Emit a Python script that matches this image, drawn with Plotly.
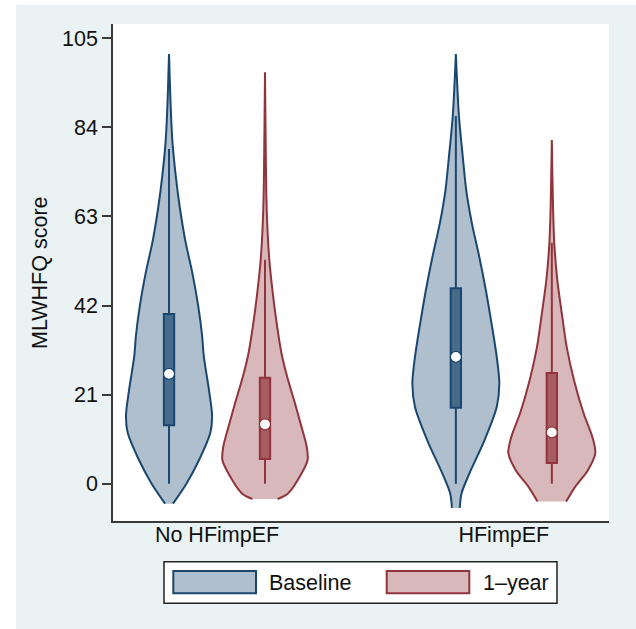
import plotly.graph_objects as go

# ---------------- data ----------------
categories = ["No HFimpEF", "HFimpEF"]
series_names = ["Baseline", "1\u2013year"]
y_ticks = [0, 21, 42, 63, 84, 105]

# violin outlines: score levels and relative density (half-width, 1 = widest)
nohf_base_levels = [-4.7, 0, 6, 12, 16, 22, 30, 35, 42, 50, 57, 65, 73, 81, 90, 101.3]
nohf_base_dens = [0.09, 0.40, 0.71, 0.95, 0.99, 0.92, 0.80, 0.76, 0.67, 0.53, 0.38, 0.25, 0.15, 0.076, 0.034, 0.0]

nohf_1y_levels = [-3.6, -2.3, 2.4, 5.6, 8.7, 13.4, 18.9, 25.2, 30.7, 37, 44.8, 52.7, 60, 68.4, 80, 97]
nohf_1y_dens = [0.29, 0.53, 0.84, 0.98, 0.96, 0.84, 0.69, 0.51, 0.38, 0.28, 0.18, 0.10, 0.057, 0.03, 0.016, 0.0]

hf_base_levels = [-5.7, -2.3, 2.4, 10.3, 18.1, 23.6, 29.9, 37.8, 45.6, 53.4, 61.3, 69.1, 77, 86.8, 101.3]
hf_base_dens = [0.09, 0.13, 0.31, 0.66, 0.94, 1.0, 0.94, 0.82, 0.69, 0.54, 0.37, 0.24, 0.16, 0.07, 0.0]

hf_1y_levels = [-4.2, -0.7, 3.2, 7.2, 11.1, 16.6, 24.4, 32.3, 40.1, 48, 56.6, 65, 81]
hf_1y_dens = [0.33, 0.54, 0.83, 1.0, 0.93, 0.73, 0.51, 0.34, 0.23, 0.126, 0.057, 0.028, 0.0]

# box statistics: [lower whisker, q1, median, q3, upper whisker]
nohf_base_box = [0, 13.8, 25.9, 40.0, 78.9]
nohf_1y_box = [0, 5.8, 14.0, 25.0, 52.8]
hf_base_box = [0, 17.9, 29.9, 46.1, 86.7]
hf_1y_box = [0, 4.9, 12.1, 26.1, 56.8]

# ---------------- styling ----------------
FONT = "Liberation Sans, Arial, sans-serif"
FS = 21.5
NAVY = "#1a476f"
MAROON = "#90353b"
FILL = {"Baseline": "#afbfcd", "1\u2013year": "#d8b8ba"}
LINE = {"Baseline": NAVY, "1\u2013year": MAROON}
BOXFILL = {"Baseline": "#476b8b", "1\u2013year": "#a65c61"}
BG = "#eaf2f3"
AXC = "#3a3a3a"

OFFSET = 0.1673      # dodge of each series from the category centre
MAXW = 0.1516        # half-width of the widest violin
BOXW = 0.036

groups = [
    (0, "Baseline", nohf_base_levels, nohf_base_dens, nohf_base_box),
    (0, "1\u2013year", nohf_1y_levels, nohf_1y_dens, nohf_1y_box),
    (1, "Baseline", hf_base_levels, hf_base_dens, hf_base_box),
    (1, "1\u2013year", hf_1y_levels, hf_1y_dens, hf_1y_box),
]

fig = go.Figure()

for ci, name, levels, dens, box in groups:
    pos = (ci + 1) + (-OFFSET if name == "Baseline" else OFFSET)
    left_x = [pos - d * MAXW for d in dens]
    right_x = [pos + d * MAXW for d in dens]
    xs = left_x + right_x[::-1]
    ys = list(levels) + list(levels)[::-1]
    fig.add_trace(go.Scatter(
        x=xs, y=ys, mode="lines", fill="toself",
        fillcolor=FILL[name],
        line=dict(color=LINE[name], width=2, shape="spline", smoothing=0.8),
        showlegend=False, hoverinfo="skip",
    ))
    lo, q1, med, q3, hi = box
    fig.add_trace(go.Box(
        x=[pos], lowerfence=[lo], q1=[q1], median=[med], q3=[q3], upperfence=[hi],
        width=BOXW, whiskerwidth=0, boxpoints=False,
        fillcolor=BOXFILL[name], line=dict(color=LINE[name], width=2),
        xaxis="x2", yaxis="y2", showlegend=False, hoverinfo="skip",
    ))
    fig.add_trace(go.Scatter(
        x=[pos], y=[med], mode="markers",
        marker=dict(size=11, color="white", line=dict(color=LINE[name], width=1.2)),
        xaxis="x2", yaxis="y2", showlegend=False, hoverinfo="skip",
    ))

XR = [0.6374, 2.3666]
YR = [-8.79, 108.37]

fig.update_layout(
    width=636, height=629,
    margin=dict(l=113, r=27, t=24, b=108),
    paper_bgcolor=BG, plot_bgcolor="white",
    font=dict(family=FONT, size=FS, color="#111111"),
    showlegend=False,
    xaxis=dict(range=XR, tickvals=[1, 2], ticktext=categories, ticks="",
               showline=True, linecolor=AXC, linewidth=1.6, showgrid=False,
               zeroline=False, ticklabelstandoff=-7,
               tickfont=dict(size=FS, family=FONT, color="#111111")),
    yaxis=dict(range=YR, tickvals=y_ticks, ticktext=[str(v) for v in y_ticks],
               ticks="outside", ticklen=9, tickwidth=1.6, tickcolor=AXC,
               showline=True, linecolor=AXC, linewidth=1.6, showgrid=False,
               zeroline=False, ticklabelstandoff=0,
               tickfont=dict(size=FS, family=FONT, color="#111111")),
    xaxis2=dict(range=XR, overlaying="x", visible=False),
    yaxis2=dict(range=YR, overlaying="y", visible=False),
)

def px(xp):
    return (xp - 113) / 496.0

def py(yp):
    return (521 - yp) / 497.0

shapes = [
    # white outer strips
    dict(type="rect", xref="paper", yref="paper", x0=px(0), x1=px(640), y0=py(5), y1=py(-2),
         fillcolor="white", line=dict(width=0), layer="below"),
    dict(type="rect", xref="paper", yref="paper", x0=px(-2), x1=px(16), y0=py(632), y1=py(-2),
         fillcolor="white", line=dict(width=0), layer="below"),
    # legend frame
    dict(type="rect", xref="paper", yref="paper", x0=px(164), x1=px(557), y0=py(603.3), y1=py(561.7),
         fillcolor="white", line=dict(color="#222222", width=1.5)),
    dict(type="rect", xref="paper", yref="paper", x0=px(173.3), x1=px(256), y0=py(593.3), y1=py(571),
         fillcolor=FILL["Baseline"], line=dict(color=NAVY, width=2)),
    dict(type="rect", xref="paper", yref="paper", x0=px(386.7), x1=px(469.3), y0=py(593.3), y1=py(571),
         fillcolor=FILL["1\u2013year"], line=dict(color=MAROON, width=2)),
]

annotations = [
    dict(text="MLWHFQ score", xref="paper", yref="paper", x=px(39.5), y=0.5,
         textangle=-90, showarrow=False, xanchor="center", yanchor="middle",
         font=dict(size=FS, family=FONT, color="#111111")),
    dict(text=series_names[0], xref="paper", yref="paper", x=px(267), y=py(582.5),
         showarrow=False, xanchor="left", yanchor="middle",
         font=dict(size=FS, family=FONT, color="#111111")),
    dict(text=series_names[1], xref="paper", yref="paper", x=px(481), y=py(582.5),
         showarrow=False, xanchor="left", yanchor="middle",
         font=dict(size=FS, family=FONT, color="#111111")),
]

fig.update_layout(shapes=shapes, annotations=annotations)
fig.write_html("out.html", config={"displayModeBar": False},
               post_script="document.body.style.margin='0px';document.body.style.padding='0px';")
